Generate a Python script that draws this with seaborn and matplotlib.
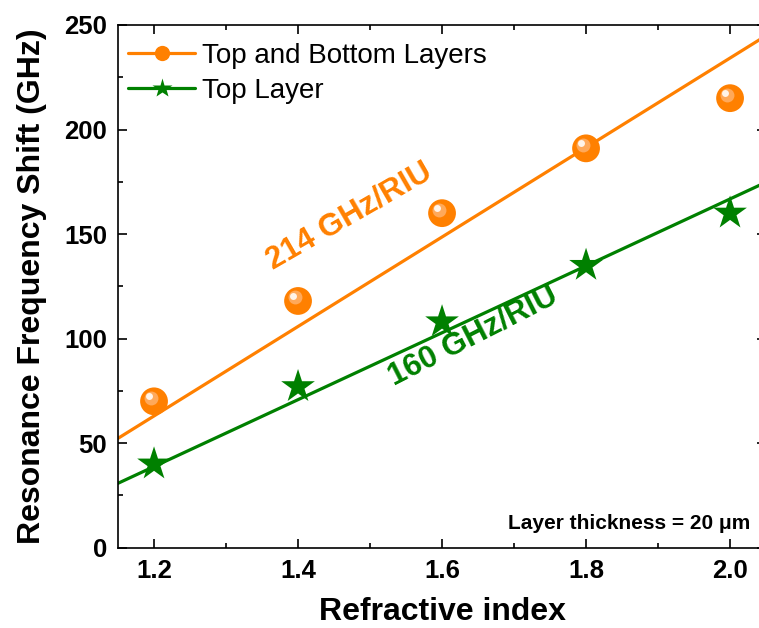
import matplotlib
matplotlib.use("Agg")
import matplotlib.pyplot as plt
import matplotlib.transforms as mtransforms
from matplotlib.lines import Line2D
from matplotlib.ticker import MultipleLocator
import numpy as np
import pandas as pd
import seaborn as sns

# Measured resonance frequency shifts versus analyte refractive index
refractive_index = [1.2, 1.4, 1.6, 1.8, 2.0]
shift_both_layers = [70, 118, 160, 191, 215]
shift_top_layer = [40, 77, 108, 135, 160]

series_names = ["Top and Bottom Layers", "Top Layer"]
series_colors = ["#FF8000", "#008000"]

# Linear fits: slope is the sensitivity in GHz/RIU
sensitivity = [214, 160]
fit_intercept = [-193.8, -153.2]

x_limits = [1.15, 2.05]
y_limits = [0, 250]

sns.set_style("ticks")
plt.rcParams["font.family"] = ["Liberation Sans", "DejaVu Sans"]
plt.rcParams.update({
    "text.color": "black",
    "axes.labelcolor": "black",
    "xtick.color": "black",
    "ytick.color": "black",
    "axes.edgecolor": "black",
})

fig = plt.figure(figsize=(7.59, 6.28), dpi=100)
ax = fig.add_axes([0.1555, 0.1279, 0.8538, 0.8323])

# Fitted lines across the full x range
x_fit = np.linspace(x_limits[0], x_limits[1], 50)
fit_frames = []
for name, slope, icpt in zip(series_names, sensitivity, fit_intercept):
    fit_frames.append(pd.DataFrame({"n": x_fit, "shift": slope * x_fit + icpt, "series": name}))
fit_df = pd.concat(fit_frames, ignore_index=True)
sns.lineplot(data=fit_df, x="n", y="shift", hue="series", palette=series_colors,
             linewidth=2.3, legend=False, ax=ax, zorder=2)

# Data points: shaded spheres and stars
points = pd.DataFrame({
    "n": refractive_index * 2,
    "shift": shift_both_layers + shift_top_layer,
    "series": [series_names[0]] * 5 + [series_names[1]] * 5,
})
both = points[points.series == series_names[0]]
top = points[points.series == series_names[1]]

sns.scatterplot(data=both, x="n", y="shift", color=series_colors[0], s=400,
                marker="o", edgecolor="none", ax=ax, zorder=3, legend=False)
shine1 = ax.transData + mtransforms.ScaledTranslation(-2.5 / 72, 2.5 / 72, fig.dpi_scale_trans)
shine2 = ax.transData + mtransforms.ScaledTranslation(-3.5 / 72, 3.5 / 72, fig.dpi_scale_trans)
ax.plot(both["n"], both["shift"], "o", ms=10, color="#FFA95A", mec="none", transform=shine1, zorder=4)
ax.plot(both["n"], both["shift"], "o", ms=5, color="#FFF4EA", mec="none", transform=shine2, zorder=5)

sns.scatterplot(data=top, x="n", y="shift", color=series_colors[1], s=650,
                marker="*", edgecolor="none", ax=ax, zorder=3, legend=False)

# Sensitivity annotations
ax.text(1.471, 158.5, f"{sensitivity[0]} GHz/RIU", color=series_colors[0], fontsize=22.5,
        fontweight="bold", rotation=30, ha="center", va="center", rotation_mode="anchor")
ax.text(1.643, 101, f"{sensitivity[1]} GHz/RIU", color=series_colors[1], fontsize=22.5,
        fontweight="bold", rotation=27, ha="center", va="center", rotation_mode="anchor")
ax.text(2.028, 9, "Layer thickness = 20 \u03bcm", fontsize=15, fontweight="bold",
        ha="right", va="baseline")

ax.set_xlim(x_limits)
ax.set_ylim(y_limits)
ax.xaxis.set_major_locator(MultipleLocator(0.2))
ax.xaxis.set_minor_locator(MultipleLocator(0.1))
ax.yaxis.set_major_locator(MultipleLocator(50))
ax.yaxis.set_minor_locator(MultipleLocator(25))
ax.tick_params(which="both", direction="in", top=True, right=True, width=1.2, color="black")
ax.tick_params(which="major", length=6.5, pad=8, labelsize=18.5)
ax.tick_params(which="minor", length=3.8)
for lbl in ax.get_xticklabels() + ax.get_yticklabels():
    lbl.set_fontweight("bold")
for sp in ax.spines.values():
    sp.set_linewidth(1.2)
    sp.set_color("black")
    sp.set_visible(True)

ax.set_xlabel("Refractive index", fontsize=23, fontweight="bold", labelpad=10)
ax.set_ylabel("Resonance Frequency Shift (GHz)", fontsize=23, fontweight="bold", labelpad=12)

handles = [
    Line2D([], [], color=series_colors[0], lw=2.3, marker="o", ms=11, mec="none"),
    Line2D([], [], color=series_colors[1], lw=2.3, marker="*", ms=15, mec="none"),
]
ax.legend(handles, series_names, loc="upper left", bbox_to_anchor=(-0.012, 1.0),
          frameon=False, fontsize=20,
          handlelength=2.4, handletextpad=0.25, labelspacing=0.32,
          borderaxespad=0.35, borderpad=0.3, labelcolor="black")

fig.savefig("out.png", dpi=100)
